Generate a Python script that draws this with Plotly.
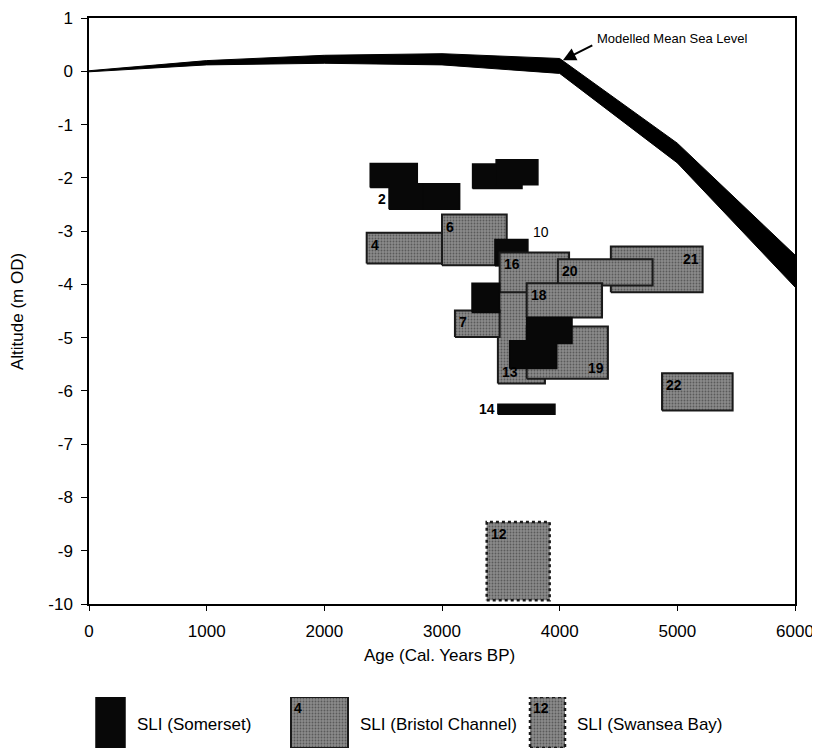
import plotly.graph_objects as go

# ---------------- data ----------------
msl_age = [0, 1000, 2000, 3000, 4000, 5000, 6000]
msl_upper = [0.01, 0.20, 0.30, 0.33, 0.24, -1.35, -3.45]
msl_lower = [-0.01, 0.12, 0.15, 0.12, -0.04, -1.72, -4.05]

# sea-level index points (boxes), listed in drawing order
box_site = ["B", "B", "S", "B", "B", "B", "B", "B", "B", "B", "B",
            "S", "S", "S", "S", "S", "S", "S", "S", "S", "W"]
box_label = ["4", "6", "10", "21", "16", "20", "13", "18", "19", "7", "22",
             "", "2", "", "", "", "", "", "", "14", "12"]
age_min = [2360, 3000, 3450, 4435, 3490, 3985, 3475, 3720, 3720, 3110, 4870,
           2390, 2550, 2840, 3260, 3460, 3255, 3720, 3575, 3475, 3380]
age_max = [3000, 3550, 3730, 5215, 4080, 4790, 3875, 4360, 4410, 3490, 5470,
           2790, 2865, 3150, 3680, 3815, 3490, 4105, 3975, 3960, 3915]
alt_min = [-3.61, -3.64, -3.65, -4.15, -4.75, -4.02, -5.86, -4.62, -5.77, -4.99, -6.37,
           -2.18, -2.59, -2.59, -2.20, -2.13, -4.53, -5.11, -5.58, -6.44, -9.93]
alt_max = [-3.03, -2.69, -3.16, -3.29, -3.40, -3.53, -4.15, -3.98, -4.79, -4.49, -5.67,
           -1.73, -2.11, -2.11, -1.74, -1.66, -3.98, -4.62, -5.06, -6.25, -8.46]
label_pos = ["tl", "tl", "ra", "tr", "tl", "tl", "bl", "tl", "br", "tl", "tl",
             "", "lb", "", "", "", "", "", "", "l", "tl"]

site_names = {"S": "SLI (Somerset)", "B": "SLI (Bristol Channel)", "W": "SLI (Swansea Bay)"}
x_ticks = [0, 1000, 2000, 3000, 4000, 5000, 6000]
x_ticktext = ["0", "1000", "2000", "3000", "4000", "5000", "6000"]
y_ticks = [1, 0, -1, -2, -3, -4, -5, -6, -7, -8, -9, -10]
y_ticktext = ["1", "0", "-1", "-2", "-3", "-4", "-5", "-6", "-7", "-8", "-9", "-10"]

# ---------------- styles ----------------
FONT = "Liberation Sans, Arial, sans-serif"
grey_pattern = dict(shape=".", bgcolor="#8a8a8a", fgcolor="#2a2a2a", size=3, solidity=0.3)


def site_style(site):
    if site == "S":
        return dict(fillcolor="#080808", line=dict(color="#080808", width=1.5), fillpattern=None)
    if site == "B":
        return dict(fillcolor="#808080", line=dict(color="#1a1a1a", width=2), fillpattern=grey_pattern)
    return dict(fillcolor="#808080", line=dict(color="#1a1a1a", width=2.5, dash="dot"),
                fillpattern=grey_pattern)


fig = go.Figure()

# modelled mean sea level band
fig.add_trace(go.Scatter(
    x=msl_age + msl_age[::-1], y=msl_upper + msl_lower[::-1],
    fill="toself", mode="lines", fillcolor="#000000",
    line=dict(color="#000000", width=1), hoverinfo="skip", showlegend=False,
    xaxis="x", yaxis="y"))

annotations = []
for site, lab, x0, x1, y0, y1, pos in zip(box_site, box_label, age_min, age_max,
                                           alt_min, alt_max, label_pos):
    st = site_style(site)
    tr = dict(x=[x0, x1, x1, x0, x0], y=[y0, y0, y1, y1, y0], fill="toself",
              mode="lines", fillcolor=st["fillcolor"], line=st["line"],
              hoverinfo="skip", showlegend=False, xaxis="x", yaxis="y")
    if st["fillpattern"] is not None:
        tr["fillpattern"] = st["fillpattern"]
    fig.add_trace(go.Scatter(**tr))
    if not lab:
        continue
    a = dict(text="<b>%s</b>" % lab, showarrow=False, xref="x", yref="y",
             font=dict(family=FONT, size=14, color="#000000"))
    if pos == "tl":
        a.update(x=x0, y=y1, xanchor="left", yanchor="top", xshift=2, yshift=-2)
    elif pos == "tr":
        a.update(x=x1, y=y1, xanchor="right", yanchor="top", xshift=-2, yshift=-2)
    elif pos == "br":
        a.update(x=x1, y=y0, xanchor="right", yanchor="bottom", xshift=-2, yshift=1)
    elif pos == "bl":
        a.update(x=x0, y=y0, xanchor="left", yanchor="bottom", xshift=2, yshift=1)
    elif pos == "ra":
        a.update(x=x1, y=y1, xanchor="left", yanchor="bottom", xshift=3, yshift=-2)
        a["text"] = lab
    elif pos == "lb":
        a.update(x=x0, y=y0, xanchor="right", yanchor="bottom", xshift=-1, yshift=0)
    elif pos == "l":
        a.update(x=x0, y=(y0 + y1) / 2, xanchor="right", yanchor="middle", xshift=-1)
    annotations.append(a)

# ---------------- legend (drawn in a helper axis below the chart) ----------------
leg_sites = ["S", "B", "W"]
leg_x0 = [96, 291, 530]
leg_x1 = [125, 348, 565]
leg_label_inside = ["", "4", "12"]
for site, x0, x1, inner in zip(leg_sites, leg_x0, leg_x1, leg_label_inside):
    st = site_style(site)
    tr = dict(x=[x0, x1, x1, x0, x0], y=[0, 0, 51, 51, 0], fill="toself", mode="lines",
              fillcolor=st["fillcolor"], line=st["line"], hoverinfo="skip",
              showlegend=False, xaxis="x2", yaxis="y2")
    if st["fillpattern"] is not None:
        tr["fillpattern"] = st["fillpattern"]
    fig.add_trace(go.Scatter(**tr))
    if inner:
        annotations.append(dict(text="<b>%s</b>" % inner, x=x0, y=51, xref="x2", yref="y2",
                                xanchor="left", yanchor="top", xshift=1, yshift=-1,
                                showarrow=False,
                                font=dict(family=FONT, size=14, color="#000000")))
    annotations.append(dict(text=site_names[site], x=x1 + 10, y=24, xref="x2", yref="y2",
                            xanchor="left", yanchor="middle", showarrow=False,
                            font=dict(family=FONT, size=17, color="#000000")))

# ---------------- annotations ----------------
annotations.append(dict(text="Modelled Mean Sea Level", x=4300, y=0.62, xref="x", yref="y",
                        xanchor="left", yanchor="middle", showarrow=False,
                        font=dict(family=FONT, size=13, color="#000000")))
annotations.append(dict(text="", x=4020, y=0.2, ax=4290, ay=0.5, axref="x", ayref="y",
                        xref="x", yref="y", showarrow=True, arrowhead=2, arrowsize=1.3,
                        arrowwidth=2, arrowcolor="#000000", standoff=1))
annotations.append(dict(text="Age (Cal. Years BP)", x=0.497, y=0.127, xref="paper", yref="paper",
                        xanchor="center", yanchor="middle", showarrow=False,
                        font=dict(family=FONT, size=17, color="#000000")))
annotations.append(dict(text="Altitude (m OD)", x=-0.102, y=0.5986, xref="paper", yref="paper",
                        xanchor="center", yanchor="middle", showarrow=False, textangle=-90,
                        font=dict(family=FONT, size=17, color="#000000")))

# the page places the figure 8 px in from the top-left corner, so the figure is
# sized 8 px smaller and its margins are shifted accordingly
fig.update_layout(
    width=812, height=740,
    margin=dict(l=81, r=25, t=10, b=0, autoexpand=False),
    paper_bgcolor="white", plot_bgcolor="white",
    showlegend=False,
    annotations=annotations,
    xaxis=dict(range=[0, 6000], tickvals=x_ticks, ticktext=x_ticktext, ticks="outside",
               ticklen=5, tickcolor="#000000", showline=True, linecolor="#000000",
               linewidth=1.5, mirror=True, showgrid=False, zeroline=False, anchor="y",
               automargin=False,
               tickfont=dict(family=FONT, size=17, color="#000000"), ticklabelstandoff=6),
    yaxis=dict(range=[-10, 1], tickvals=y_ticks, ticktext=y_ticktext, ticks="outside",
               ticklen=6, tickcolor="#000000", showline=True, linecolor="#000000",
               linewidth=1.5, mirror=True, showgrid=False, zeroline=False, anchor="x",
               automargin=False, domain=[144 / 730, 1],
               tickfont=dict(family=FONT, size=17, color="#000000"), ticklabelstandoff=5),
    xaxis2=dict(range=[89, 795], domain=[0, 1], anchor="y2", visible=False, fixedrange=True),
    yaxis2=dict(range=[0, 51], domain=[0, 51 / 730], anchor="x2", visible=False, fixedrange=True),
)

fig.write_html("out.html")
